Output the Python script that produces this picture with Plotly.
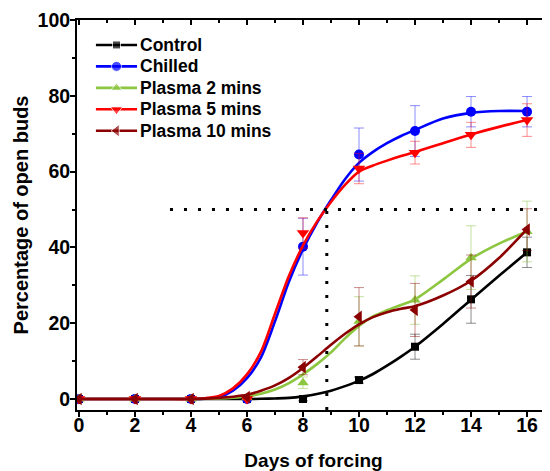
import plotly.graph_objects as go

# ---------------- data ----------------
days = [0, 2, 4, 6, 8, 10, 12, 14, 16]

control      = [0, 0, 0, 0, 0.0, 5.0, 13.8, 26.3, 38.7]
control_err  = [0, 0, 0, 0, 0.5, 0.8, 3.3, 6.3, 4.0]
chilled      = [0, 0, 0, 0, 40.2, 64.5, 70.7, 75.8, 75.8]
chilled_err  = [0, 0, 0, 0, 7.5, 7.0, 6.7, 4.0, 4.0]
plasma2      = [0, 0, 0, 0.3, 4.3, 20.5, 26.1, 37.3, 44.2]
plasma2_err  = [0, 0, 0, 0, 1.5, 6.5, 6.4, 8.4, 8.0]
plasma5      = [0, 0, 0, 0, 43.8, 60.8, 65.0, 69.7, 73.6]
plasma5_err  = [0, 0, 0, 0, 4.0, 4.0, 3.0, 3.3, 4.3]
plasma10     = [0, 0, 0, 0.5, 8.4, 21.7, 23.5, 31.0, 44.7]
plasma10_err = [0, 0, 0, 0, 2.0, 7.7, 7.0, 7.0, 5.5]

# fitted curves
fit_days = [0, 1, 2, 3, 4, 4.5, 5, 5.5, 6, 6.5, 7, 7.5, 8, 8.5, 9, 9.5, 10, 10.5, 11, 11.5, 12, 13, 14, 15, 16]
fit_control  = [0, 0, 0, 0, 0, 0, 0, 0, 0, 0.05, 0.15, 0.3, 0.7, 1.3, 2.2, 3.4, 4.8, 6.6, 8.8, 11.2, 13.8, 19.8, 26.2, 32.5, 38.7]
fit_chilled  = [0, 0, 0, 0, 0, 0.1, 0.5, 2.2, 5.5, 11.0, 20.5, 31.0, 39.5, 46.5, 52.5, 58.0, 62.3, 65.2, 67.5, 69.4, 71.0, 74.0, 75.5, 76.0, 76.0]
fit_plasma2  = [0, 0, 0, 0, 0, 0.05, 0.15, 0.35, 0.7, 1.4, 2.5, 4.2, 6.5, 9.2, 12.3, 16.0, 19.3, 21.8, 23.4, 24.8, 26.3, 31.5, 37.0, 41.0, 44.2]
fit_plasma5  = [0, 0, 0, 0, 0, 0.2, 0.8, 2.8, 6.5, 12.5, 22.5, 32.5, 40.5, 46.8, 52.0, 56.5, 60.0, 61.6, 62.9, 64.1, 65.2, 67.5, 69.8, 71.8, 73.6]
fit_plasma10 = [0, 0, 0, 0, 0, 0.1, 0.3, 0.6, 1.1, 2.2, 3.6, 5.6, 8.2, 11.2, 14.3, 17.2, 19.7, 21.6, 22.9, 23.8, 24.5, 27.3, 31.2, 37.2, 44.8]

series_names = ["Control", "Chilled", "Plasma 2 mins", "Plasma 5 mins", "Plasma 10 mins"]

half_level = 50        # horizontal reference line
t50 = 8.85             # vertical reference line (day)
ref_line_start = 3.25  # start of the horizontal dotted line

x_ticks = [0, 2, 4, 6, 8, 10, 12, 14, 16]
y_ticks = [0, 20, 40, 60, 80, 100]

# ---------------- styling ----------------
colors = ["#000000", "#0000FF", "#8DC641", "#FF0000", "#8B0000"]
err_colors = ["rgba(0,0,0,0.45)", "rgba(0,0,255,0.45)", "rgba(141,198,65,0.5)",
              "rgba(255,0,0,0.45)", "rgba(139,0,0,0.45)"]
symbols = ["square", "circle", "triangle-up", "triangle-down", "triangle-left"]
msizes = [8, 10, 10, 11, 11]

FONT = "Liberation Sans"
X_RANGE = [-0.07, 16.82]
Y_RANGE = [-2.9, 100]

# legend placement (fractions of the plot area)
LEG_X0, LEG_XM, LEG_X1, LEG_TX = 0.040, 0.0835, 0.127, 0.129
LEG_ROWS = [0.936, 0.881, 0.826, 0.771, 0.716]

values = [control, chilled, plasma2, plasma5, plasma10]
errors = [control_err, chilled_err, plasma2_err, plasma5_err, plasma10_err]
fits = [fit_control, fit_chilled, fit_plasma2, fit_plasma5, fit_plasma10]

fig = go.Figure()

for i in range(5):
    # fitted curve
    fig.add_trace(go.Scatter(
        x=fit_days, y=fits[i], mode="lines",
        line=dict(color=colors[i], width=2.6, shape="spline", smoothing=0.8),
        hoverinfo="skip"))
    # points with error bars
    fig.add_trace(go.Scatter(
        x=days, y=values[i], mode="markers", name=series_names[i],
        marker=dict(symbol=symbols[i], size=msizes[i], color=colors[i]),
        error_y=dict(type="data", array=errors[i], color=err_colors[i],
                     thickness=1, width=5)))

# legend samples (drawn on a hidden 0..1 overlay axis) and labels
for i in range(5):
    fig.add_trace(go.Scatter(
        x=[LEG_X0, LEG_XM, LEG_X1], y=[LEG_ROWS[i]] * 3,
        xaxis="x3", yaxis="y3", mode="lines+markers",
        line=dict(color=colors[i], width=2.6),
        marker=dict(symbol=symbols[i], size=[0, msizes[i], 0], color=colors[i]),
        hoverinfo="skip"))
    fig.add_annotation(x=LEG_TX, y=LEG_ROWS[i], xref="paper", yref="paper",
                       text=series_names[i], showarrow=False,
                       xanchor="left", yanchor="middle",
                       font=dict(family=FONT, size=17.5, color="black", weight=700))

# dummy trace for the mirrored top/right axes
fig.add_trace(go.Scatter(x=[0], y=[0], xaxis="x2", yaxis="y2", mode="markers",
                         marker=dict(opacity=0), hoverinfo="skip"))

# dotted reference lines
fig.add_shape(type="line", xref="x", yref="y", x0=ref_line_start, x1=X_RANGE[1],
              y0=half_level, y1=half_level,
              line=dict(color="black", width=3, dash="3px,11px"))
fig.add_shape(type="line", xref="x", yref="y", x0=t50, x1=t50,
              y0=Y_RANGE[0], y1=half_level,
              line=dict(color="black", width=3, dash="3px,11px"))

tickfont = dict(family=FONT, size=19.5, color="black", weight=700)
fig.update_layout(
    width=542, height=463,
    margin=dict(l=69, r=0, t=12, b=53),
    showlegend=False,
    paper_bgcolor="white", plot_bgcolor="white",
    font=dict(family=FONT, color="black"),
    xaxis=dict(range=X_RANGE, tickvals=x_ticks, ticktext=[str(v) for v in x_ticks],
               showline=True, linewidth=2, linecolor="black",
               ticks="outside", ticklen=5, tickwidth=2, tickcolor="black",
               minor=dict(ticks="outside", ticklen=3, tickwidth=1.5, dtick=1, tick0=0, tickcolor="black"),
               showgrid=False, zeroline=False, tickfont=tickfont, ticklabelstandoff=-8,
               title=dict(text="Days of forcing", font=dict(family=FONT, size=19, weight=700), standoff=21)),
    yaxis=dict(range=Y_RANGE, tickvals=y_ticks, ticktext=[str(v) for v in y_ticks],
               showline=True, linewidth=2, linecolor="black",
               ticks="outside", ticklen=5, tickwidth=2, tickcolor="black",
               minor=dict(ticks="outside", ticklen=3, tickwidth=1.5, dtick=10, tick0=0, tickcolor="black"),
               showgrid=False, zeroline=False, tickfont=tickfont, ticklabelstandoff=-4,
               title=dict(text="Percentage of open buds", font=dict(family=FONT, size=20, weight=700), standoff=4)),
    xaxis2=dict(range=X_RANGE, overlaying="x", side="top", anchor="y",
                showline=True, linewidth=2, linecolor="black",
                ticks="inside", ticklen=5, tickwidth=2, tickcolor="black", dtick=2, tick0=0,
                minor=dict(ticks="inside", ticklen=3, tickwidth=1.5, dtick=1, tick0=0, tickcolor="black"),
                showticklabels=False, showgrid=False, zeroline=False),
    yaxis2=dict(range=Y_RANGE, overlaying="y", side="right", anchor="x",
                showline=False, ticks="inside", ticklen=4, tickwidth=2, tickcolor="black",
                dtick=20, tick0=0, showticklabels=False, showgrid=False, zeroline=False),
    xaxis3=dict(range=[0, 1], overlaying="x", anchor="y3", visible=False),
    yaxis3=dict(range=[0, 1], overlaying="y", anchor="x3", visible=False),
)

fig.write_html("out.html")
